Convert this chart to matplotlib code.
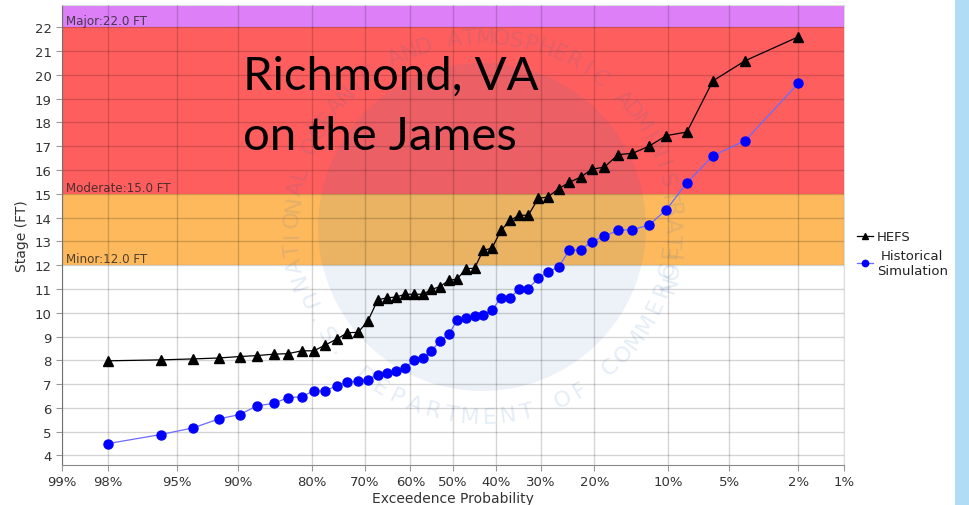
from statistics import NormalDist

import matplotlib
matplotlib.use("Agg")
import matplotlib.pyplot as plt
from matplotlib.patches import Circle
from matplotlib.transforms import IdentityTransform
import numpy as np

# exceedance probability (%) of each ranked value, 2% ... 98%
exceed_pct = [2.0, 4.1, 6.1, 8.2, 10.2, 12.2, 14.3, 16.3, 18.4, 20.4, 22.4, 24.5,
              26.5, 28.6, 30.6, 32.7, 34.7, 36.7, 38.8, 40.8, 42.9, 44.9, 46.9, 49.0,
              51.0, 53.1, 55.1, 57.1, 59.2, 61.2, 63.3, 65.3, 67.3, 69.4, 71.4, 73.5,
              75.5, 77.6, 79.6, 81.6, 83.7, 85.7, 87.8, 89.8, 91.8, 93.9, 95.9, 98.0]

hefs = [21.6, 20.6, 19.75, 17.6, 17.45, 17.0, 16.7, 16.65, 16.12, 16.04, 15.7, 15.48,
        15.21, 14.87, 14.81, 14.1, 14.1, 13.88, 13.46, 12.72, 12.62, 11.87, 11.86, 11.42,
        11.36, 11.1, 10.98, 10.78, 10.78, 10.78, 10.66, 10.63, 10.54, 9.64, 9.18, 9.16,
        8.9, 8.65, 8.4, 8.4, 8.28, 8.26, 8.2, 8.16, 8.1, 8.06, 8.02, 7.98]

hist_sim = [19.64, 17.24, 16.6, 15.47, 14.34, 13.68, 13.5, 13.46, 13.22, 12.99, 12.65, 12.62,
            11.92, 11.73, 11.45, 11.02, 10.98, 10.64, 10.64, 10.1, 9.9, 9.86, 9.8, 9.7,
            9.09, 8.81, 8.4, 8.1, 8.02, 7.68, 7.55, 7.46, 7.4, 7.18, 7.12, 7.08,
            6.94, 6.72, 6.72, 6.47, 6.43, 6.19, 6.09, 5.72, 5.54, 5.16, 4.88, 4.5]

tick_pct = [99, 98, 95, 90, 80, 70, 60, 50, 40, 30, 20, 10, 5, 2, 1]

flood_levels = [("Minor", 12.0), ("Moderate", 15.0), ("Major", 22.0)]
band_colors = ["#fdb95c", "#ff5e5e", "#dd80f7"]

title_lines = ["Richmond, VA", "on the James"]

nd = NormalDist()


def to_z(pct):
    # normal probability paper: high exceedance on the left
    return np.array([nd.inv_cdf(1 - p / 100.0) for p in pct])


W, H = 969, 506
fig = plt.figure(figsize=(W / 100, H / 100), dpi=100)
ax = fig.add_axes([62 / W, 1 - 466 / H, (844 - 62) / W, (466 - 6) / H])

ymin, ymax = 3.6, 22.94
xlo, xhi = to_z([99, 1])
ax.set_xlim(xlo, xhi)
ax.set_ylim(ymin, ymax)

# flood category bands
tops = [lv for _, lv in flood_levels[1:]] + [ymax]
for (name, lv), top, col in zip(flood_levels, tops, band_colors):
    ax.axhspan(lv, top, color=col, lw=0, zorder=0)
    ax.text(0.005, lv + 0.13, f"{name}:{lv:.1f} FT", transform=ax.get_yaxis_transform(),
            fontsize=8.6, color="#222222", alpha=0.8, zorder=1)

# faint NOAA-style watermark
cx, cy = 482, H - 228
ax.add_patch(Circle((cx, cy), 164, transform=IdentityTransform(), color="#2a6ab8",
                    alpha=0.085, lw=0, zorder=1))
top_txt = "NATIONAL OCEANIC AND ATMOSPHERIC ADMINISTRATION"
for k, ch in enumerate(top_txt):
    th = np.deg2rad(196 - k * (214 / (len(top_txt) - 1)))
    ax.text(cx + 190 * np.cos(th), cy + 190 * np.sin(th), ch, transform=IdentityTransform(),
            rotation=np.rad2deg(th) - 90, ha="center", va="center", fontsize=16,
            color="#2a6ab8", alpha=0.12, zorder=1)
bot_txt = "U.S. DEPARTMENT OF COMMERCE"
for k, ch in enumerate(bot_txt):
    th = np.deg2rad(203 + k * (150 / (len(bot_txt) - 1)))
    ax.text(cx + 190 * np.cos(th), cy + 190 * np.sin(th), ch, transform=IdentityTransform(),
            rotation=np.rad2deg(th) + 90, ha="center", va="center", fontsize=16,
            color="#2a6ab8", alpha=0.12, zorder=1)

# grid
ax.set_xticks(to_z(tick_pct))
ax.set_xticklabels([f"{t}%" for t in tick_pct])
ax.set_yticks(range(4, 23))
ax.grid(True, color="k", alpha=0.17, lw=1, zorder=2)
ax.set_axisbelow(False)

x = to_z(exceed_pct)
ax.plot(x, hefs, color="black", lw=0.9, marker="^", ms=6.5, label="HEFS", zorder=4)
ax.plot(x, hist_sim, color="#6b6bff", lw=0.9, marker="o", ms=6.5, mfc="#0000ff",
        mec="#0000ff", label="Historical\nSimulation", zorder=3)

ax.tick_params(labelsize=9.5, labelcolor="#333333", color="#999999", length=4)
for s in ["top", "right"]:
    ax.spines[s].set_color("#dddddd")
for s in ["left", "bottom"]:
    ax.spines[s].set_color("#888888")

ax.set_xlabel("Exceedence Probability", fontsize=10, color="#333333", labelpad=2)
ax.set_ylabel("Stage (FT)", fontsize=10, color="#333333", labelpad=4)

leg = ax.legend(loc="center left", bbox_to_anchor=(1.01, 0.46), frameon=False,
                fontsize=9.5, handlelength=1.2, handletextpad=0.3, labelspacing=0.4,
                borderaxespad=0, markerscale=0.7)
for t in leg.get_texts():
    t.set_multialignment("center")
    t.set_color("#222222")

for line, base in zip(title_lines, [90, 150]):
    fig.text(243 / W, 1 - base / H, line, family="Lato", fontsize=34,
             color="black", va="baseline")

# slide edge strip on the right
fig.patches.append(plt.Rectangle((955 / W, 0), 14 / W, 1, transform=fig.transFigure,
                                 color="#b0dcf5", lw=0))

fig.savefig("out.png", dpi=100)
